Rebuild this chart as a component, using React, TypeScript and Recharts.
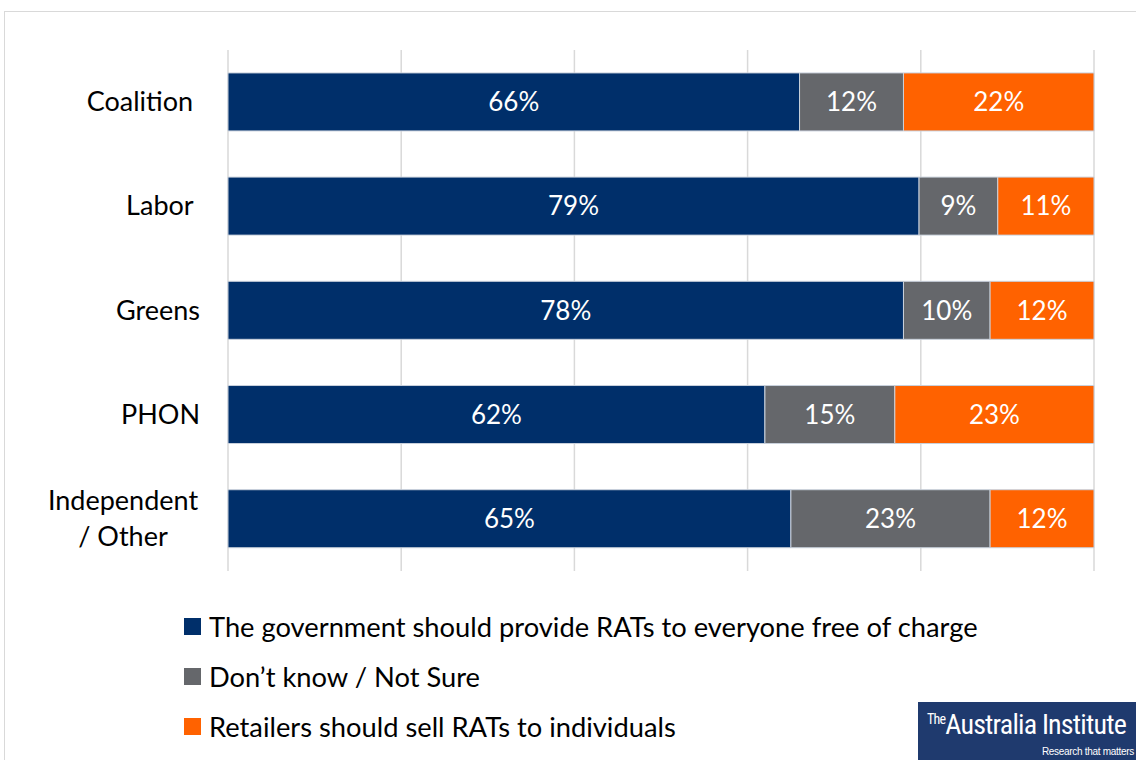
import React from "react";
import { BarChart, Bar, XAxis, YAxis, CartesianGrid, LabelList } from "recharts";

// categories and series values (percent)
const parties = ["Coalition ", "Labor ", "Greens", "PHON", "Independent\n/ Other"];
const freeOfCharge = [66, 79, 78, 62, 65];
const notSure = [12, 9, 10, 15, 23];
const retailers = [22, 11, 12, 23, 12];
const xTicks = [0, 0.2, 0.4, 0.6, 0.8, 1];

const seriesNames = [
  "The government should provide RATs to everyone free of charge",
  "Don\u2019t know / Not Sure",
  "Retailers should sell RATs to individuals",
];
const COLORS = ["#002F6A", "#65676B", "#FF6200"];
const FONT = "Lato, 'Open Sans', sans-serif";

const data = parties.map((name, i) => ({
  name,
  free: freeOfCharge[i],
  unsure: notSure[i],
  retail: retailers[i],
}));

const PartyTick = (props: any) => {
  const { x, y, payload } = props;
  const lines: string[] = String(payload.value).split("\n");
  if (lines.length === 1) {
    return (
      <text x={x - 20} y={y} dy={9} textAnchor="end" fontSize={27} fill="#000" fontFamily={FONT} style={{ whiteSpace: "pre" }}>
        {lines[0]}
      </text>
    );
  }
  const longest = Math.max(...lines.map((l) => l.length));
  const cx = x - 20 - (longest * 14) / 2;
  return (
    <text x={cx} y={y} textAnchor="middle" fontSize={27} fill="#000" fontFamily={FONT}>
      {lines.map((l, i) => (
        <tspan key={i} x={cx} dy={i === 0 ? -9 : 36}>
          {l}
        </tspan>
      ))}
    </text>
  );
};

const pct = (v: any) => `${v}%`;

export default function App() {
  return (
    <div style={{ position: "absolute", left: 0, top: 0, width: 1136, height: 760, background: "#fff", overflow: "hidden", fontFamily: FONT }}>
      <div style={{ position: "absolute", left: 4, top: 11, width: 1200, height: 800, border: "1px solid #D9D9D9", boxSizing: "border-box" }} />
      <div style={{ position: "absolute", left: 0, top: 0 }}>
        <BarChart
          width={1136}
          height={760}
          data={data}
          layout="vertical"
          stackOffset="expand"
          barCategoryGap="22%"
          margin={{ top: 50, right: 42, bottom: 189, left: 0 }}
        >
          <CartesianGrid horizontal={false} stroke="#D9D9D9" strokeWidth={1.5} />
          <XAxis type="number" domain={[0, 1]} ticks={xTicks} hide />
          <YAxis type="category" dataKey="name" width={228} axisLine={false} tickLine={false} tick={<PartyTick />} interval={0} />
          <Bar dataKey="free" stackId="a" fill={COLORS[0]} stroke="#C9D1DC" strokeWidth={1} isAnimationActive={false}>
            <LabelList dataKey="free" position="center" fill="#fff" fontSize={26} fontFamily={FONT} formatter={pct} />
          </Bar>
          <Bar dataKey="unsure" stackId="a" fill={COLORS[1]} stroke="#C9D1DC" strokeWidth={1} isAnimationActive={false}>
            <LabelList dataKey="unsure" position="center" fill="#fff" fontSize={26} fontFamily={FONT} formatter={pct} />
          </Bar>
          <Bar dataKey="retail" stackId="a" fill={COLORS[2]} stroke="#C9D1DC" strokeWidth={1} isAnimationActive={false}>
            <LabelList dataKey="retail" position="center" fill="#fff" fontSize={26} fontFamily={FONT} formatter={pct} />
          </Bar>
        </BarChart>
      </div>
      <div style={{ position: "absolute", left: 184, top: 601 }}>
        {seriesNames.map((s, i) => (
          <div key={s} style={{ display: "flex", alignItems: "center", height: 50, fontSize: 27.3, color: "#000", whiteSpace: "nowrap" }}>
            <span style={{ width: 17, height: 17, background: COLORS[i], marginRight: 8, display: "inline-block", flex: "none" }} />
            {s}
          </div>
        ))}
      </div>
      <div style={{ position: "absolute", left: 918, top: 702, width: 218, height: 58, background: "#1F3A6E", color: "#fff", overflow: "hidden" }}>
        <div style={{ position: "absolute", left: 9, top: 6, fontFamily: "'Liberation Sans Narrow', 'Roboto Condensed', 'Open Sans', sans-serif", fontSize: 28, letterSpacing: -0.8, whiteSpace: "nowrap" }}>
          <span style={{ fontSize: 14, verticalAlign: "top", position: "relative", top: 3 }}>The</span>Australia Institute
        </div>
        <div style={{ position: "absolute", right: 2, top: 44, fontSize: 10, letterSpacing: -0.3, whiteSpace: "nowrap", fontFamily: "'Liberation Sans Narrow', sans-serif" }}>
          Research that matters
        </div>
      </div>
    </div>
  );
}
